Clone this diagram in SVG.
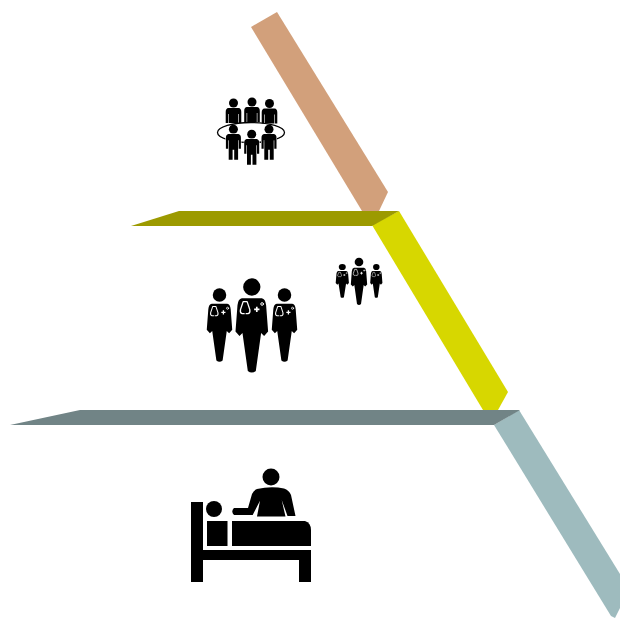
<svg xmlns="http://www.w3.org/2000/svg" width="620" height="618" viewBox="0 0 620 618">
<style>
.k{fill:#000}
.halo{fill:#000;stroke:#fff;stroke-width:1;paint-order:stroke}
.st{fill:none;stroke:#fff;stroke-width:4;stroke-linecap:round;stroke-linejoin:round}
.plus{fill:none;stroke:#fff;stroke-width:5}
</style>
<defs>
<g id="back"><circle class="k" r="4.500"/><path class="k" d="M-5,5H5Q7.800,5.300 7.800,9V20H5.400V11H4.800V20H-4.800V11H-5.400V20H-7.800V9Q-7.800,5.300 -5,5Z"/></g>
<g id="front"><circle class="k" r="4.500"/><path class="halo" d="M-5,4.800H5Q7.500,5.200 7.500,8.500V19.500H5.300V11H4.700V30.500H.8V20.500H-.8V30.500H-4.700V11H-5.300V19.500H-7.500V8.500Q-7.500,5.200 -5,4.800Z"/></g>
<g id="doc">
<circle class="k" r="26"/>
<path class="k" d="M-30,34L30,34Q41,36 43,55L49,134L37,147L28,138L12,252Q0,262 -12,252L-28,138L-37,147L-49,134L-43,55Q-41,36 -30,34Z"/>
<path class="st" d="M-23,80H-29Q-36,78 -34,68L-26,44H-14L-6,68Q-4,78 -11,80H-17"/>
<path class="plus" d="M7,67H23M15,59V75"/>
<circle class="st" cx="31" cy="51" r="4" style="stroke-width:3"/>
</g>
</defs>
<g id="connectors">
<polygon fill="#d2a07b" points="251,27 277,12 388,192 379,211 362,211"/>
<polygon fill="#d7d700" points="372,225 399,211 508,392 498,410 483,410"/>
<polygon fill="#9ebbbe" points="494,425 519,410 620,574 620,608 615,618 611,616"/>
<polygon fill="#9c9a00" points="131,226 179,211 399,211 372,226"/>
<polygon fill="#718486" points="10,425 80,410 520,410 494,425"/>
</g>
<g id="team-icon">
<use href="#back" x="233.500" y="103"/>
<use href="#back" x="252" y="102"/>
<use href="#back" x="269.500" y="103.500"/>
<ellipse cx="251" cy="132.500" rx="33.500" ry="10" fill="none" stroke="#000" stroke-width="1.300"/>
<use href="#front" x="233.400" y="129.300"/>
<use href="#front" x="269" y="129.300"/>
<use href="#front" x="251.700" y="134.300"/>
</g>
<g id="doctors-large">
<use href="#doc" transform="translate(219.500 295) scale(.26)"/>
<use href="#doc" transform="translate(284.500 295) scale(.26)"/>
<use href="#doc" transform="translate(251.800 287) scale(.333)"/>
</g>
<g id="doctors-small">
<use href="#doc" transform="translate(342.300 267) scale(.135 .12)"/>
<use href="#doc" transform="translate(376.300 267) scale(.125 .12)"/>
<use href="#doc" transform="translate(359 262) scale(.167)"/>
</g>
<g id="bed-icon">
<circle class="k" cx="271" cy="477" r="8.500"/>
<path class="k" d="M257,489Q271,486 284,488.500Q289,490 291,495L295.500,516H287.500L281.700,500L285.500,516.500H257L260,500.700L252.700,515H234Q230.500,511.500 234,508H248L252,494Q254,490 257,489Z"/>
<circle class="k" cx="214" cy="509" r="8"/>
<path class="k" d="M191,502H203V550H311V582H299V560H203V582H191Z"/>
<rect class="k" x="207" y="521" width="20.500" height="25"/>
<path class="k" d="M232,521H305Q311,523 311,530V546H232Z"/>
</g>
</svg>
